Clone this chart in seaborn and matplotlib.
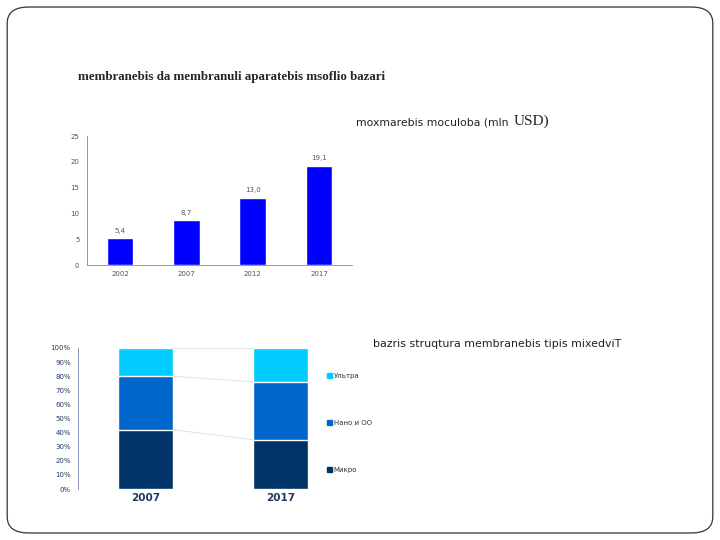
import numpy as np
import pandas as pd
import matplotlib
matplotlib.use("Agg")
import matplotlib.pyplot as plt
from matplotlib.patches import FancyBboxPatch, Patch
import seaborn as sns

# top chart: consumption volume, mln USD
years = ["2002", "2007", "2012", "2017"]
volume = [5.2, 8.7, 13.0, 19.2]
volume_labels = ["5,4", "8,7", "13,0", "19,1"]

# bottom chart: market structure by membrane type, %
struct_years = ["2007", "2017"]
micro = [42, 35]
nano_ro = [38, 41]
ultra = [20, 24]
type_names = ["Ультра", "Нано и ОО", "Микро"]

sns.set_style("white")
plt.rcParams["font.family"] = ["DejaVu Sans"]

fig = plt.figure(figsize=(7.2, 5.4), dpi=100)

# slide frame
frame = FancyBboxPatch((0.01, 0.013), 0.98, 0.974, boxstyle="round,pad=0,rounding_size=0.03",
                       transform=fig.transFigure, fill=False, edgecolor="#333333", linewidth=0.9)
fig.patches.append(frame)

fig.text(0.108, 0.857, "membranebis da membranuli aparatebis msoflio bazari",
         family="Liberation Serif", fontweight="bold", fontsize=9.4, va="center")
t1 = fig.text(0.494, 0.773, "moxmarebis moculoba (mln", family="DejaVu Sans", fontsize=7.8,
              va="center", color="#222222")
fig.canvas.draw()
bb = t1.get_window_extent(fig.canvas.get_renderer()).transformed(fig.transFigure.inverted())
fig.text(bb.x1 + 0.007, 0.775, "USD)", family="Liberation Serif", fontsize=11, va="center",
         color="#222222")
fig.text(0.518, 0.363, "bazris struqtura membranebis tipis mixedviT", family="DejaVu Sans",
         fontsize=7.9, va="center", color="#222222")

# ---- bar chart
ax1 = fig.add_axes([0.121, 0.509, 0.368, 0.239])
df1 = pd.DataFrame({"year": years, "volume": volume})
sns.barplot(data=df1, x="year", y="volume", color="#0000FF", saturation=1, width=0.4, ax=ax1)
for i, (v, lab) in enumerate(zip(volume, volume_labels)):
    ax1.text(i, v + 0.9, lab, ha="center", va="bottom", fontsize=5, color="#555555")
ax1.set_ylim(0, 25)
ax1.set_xlim(-0.5, 3.5)
ax1.set_yticks([0, 5, 10, 15, 20, 25])
ax1.set_xlabel("")
ax1.set_ylabel("")
ax1.tick_params(axis="both", labelsize=5, colors="#555555", length=2, width=0.6)
ax1.tick_params(axis="x", length=0, pad=4)
for s in ["top", "right"]:
    ax1.spines[s].set_visible(False)
for s in ["left", "bottom"]:
    ax1.spines[s].set_color("#999999")
    ax1.spines[s].set_linewidth(0.7)

# ---- stacked chart
ax2 = fig.add_axes([0.109, 0.0944, 0.3736, 0.2612])
df2 = pd.DataFrame({"year": struct_years, "micro": micro, "nano": nano_ro, "ultra": ultra})
df2["top"] = df2["micro"] + df2["nano"] + df2["ultra"]
df2["mid"] = df2["micro"] + df2["nano"]
bw = 0.41
sns.barplot(data=df2, x="year", y="top", color="#00CCFF", saturation=1, width=bw, ax=ax2)
sns.barplot(data=df2, x="year", y="mid", color="#0066CC", saturation=1, width=bw, ax=ax2)
sns.barplot(data=df2, x="year", y="micro", color="#003366", saturation=1, width=bw, ax=ax2)
for col in ["top", "mid", "micro"]:
    ax2.plot([bw / 2, 1 - bw / 2], df2[col].values, color="#DDDDDD", linewidth=0.6)
ax2.set_ylim(0, 100)
ax2.set_xlim(-0.5, 1.5)
ax2.set_yticks(range(0, 101, 10))
ax2.set_yticklabels([f"{t}%" for t in range(0, 101, 10)])
ax2.set_xlabel("")
ax2.set_ylabel("")
ax2.tick_params(axis="y", labelsize=5, colors="#1F3864", length=2, width=0.6)
ax2.tick_params(axis="x", length=0, labelsize=7.5, labelcolor="#1F3864", pad=3)
for lab in ax2.get_xticklabels():
    lab.set_fontweight("bold")
for s in ["top", "right", "bottom"]:
    ax2.spines[s].set_visible(False)
ax2.spines["left"].set_color("#8899BB")
ax2.spines["left"].set_linewidth(0.7)

handles = [Patch(color=c) for c in ["#00CCFF", "#0066CC", "#003366"]]
leg = ax2.legend(handles, type_names, loc="upper left", bbox_to_anchor=(0.9, 0.87),
                 frameon=False, fontsize=5, labelspacing=5.9, handlelength=0.7,
                 handleheight=0.7, handletextpad=0.3)
for t in leg.get_texts():
    t.set_color("#333333")

fig.savefig("out.png", dpi=100)
